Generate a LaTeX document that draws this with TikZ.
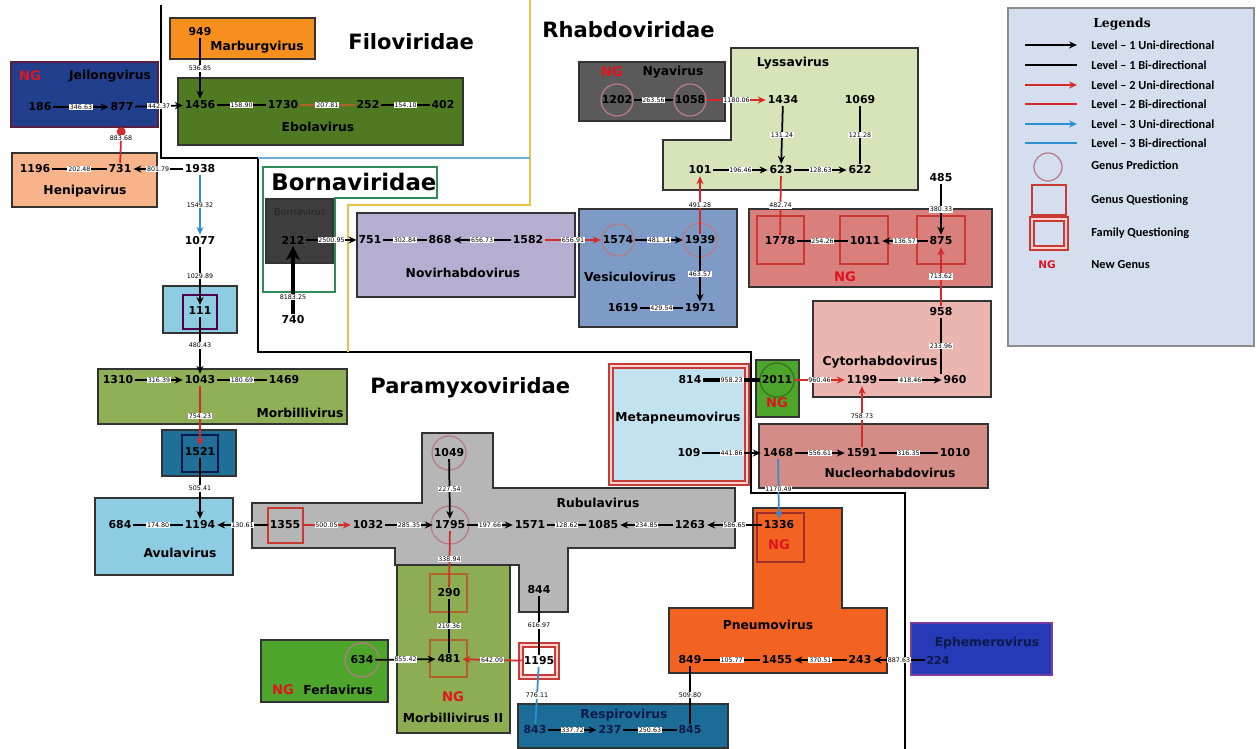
\documentclass[tikz,border=0pt]{standalone}
\usepackage{fontspec}
\setmainfont{DejaVu Sans}
\newfontfamily\legfont{Carlito}
\newfontfamily\legtitle{DejaVu Serif}
\usetikzlibrary{arrows.meta}

\definecolor{marbc}{HTML}{F78F1E}
\definecolor{ebolac}{HTML}{4F7A22}
\definecolor{jeilc}{HTML}{213F8C}
\definecolor{jeilline}{HTML}{5B1F3F}
\definecolor{henic}{HTML}{F7B38A}
\definecolor{bornac}{HTML}{3D3D3D}
\definecolor{bornaline}{HTML}{2E8B57}
\definecolor{novic}{HTML}{B6AED0}
\definecolor{vesic}{HTML}{7E9BC7}
\definecolor{lyssc}{HTML}{D7E3B8}
\definecolor{nyac}{HTML}{5A5A5A}
\definecolor{ngregc}{HTML}{D9807C}
\definecolor{cytoc}{HTML}{EBB6B0}
\definecolor{greenngc}{HTML}{4DA52B}
\definecolor{metac}{HTML}{C2E2F0}
\definecolor{nucc}{HTML}{D48C87}
\definecolor{pneuc}{HTML}{F26322}
\definecolor{ephec}{HTML}{2639B7}
\definecolor{ephline}{HTML}{7A3C9E}
\definecolor{respc}{HTML}{1C6C98}
\definecolor{rubc}{HTML}{B6B6B6}
\definecolor{morbiic}{HTML}{8CAD51}
\definecolor{avuc}{HTML}{8ECCE2}
\definecolor{boxdarkc}{HTML}{1F6F98}
\definecolor{morbc}{HTML}{90B058}
\definecolor{legbg}{HTML}{D4DEEE}
\definecolor{lvtwo}{HTML}{D42A2A}
\definecolor{lvthree}{HTML}{2E8FD0}
\definecolor{browny}{HTML}{B0642A}
\definecolor{ngred}{HTML}{E0141E}
\definecolor{predc}{HTML}{B87A86}
\definecolor{questc}{HTML}{C83A34}
\definecolor{famyellow}{HTML}{E9C441}
\definecolor{famblue}{HTML}{6AAEDC}
\definecolor{navytext}{HTML}{0C1A4A}

\begin{document}
\begin{tikzpicture}[x=0.02cm,y=-0.02cm,
    num/.style={font=\bfseries\fontsize{6.2}{7}\selectfont, inner sep=1pt},
    gname/.style={font=\bfseries\fontsize{7}{8}\selectfont, inner sep=0pt},
    fam/.style={font=\bfseries\fontsize{12}{14}\selectfont, anchor=west, inner sep=0pt},
    ng/.style={font=\bfseries\fontsize{7.5}{8}\selectfont, text=ngred, inner sep=0pt},
    elab/.style={font=\fontsize{3.6}{4}\selectfont, fill=white, inner sep=0.5pt},
    lone/.style={draw=black, line width=1pt, -{Stealth[length=4.5pt,width=4pt]}},
    lonebi/.style={draw=black, line width=1pt},
    ltwo/.style={draw=lvtwo, line width=1pt, -{Stealth[length=4.5pt,width=4pt]}},
    ltwobi/.style={draw=lvtwo, line width=1pt},
    lthree/.style={draw=lvthree, line width=1pt, -{Stealth[length=4.5pt,width=4pt]}},
    lthreebi/.style={draw=lvthree, line width=1pt},
    box/.style={draw=black!80, line width=0.9pt},
    pred/.style={draw=predc, line width=0.7pt},
    quest/.style={draw=questc, line width=0.8pt},
    famquest/.style={draw=questc, line width=0.9pt, double=pink!70, double distance=1.2pt},
    leg/.style={font=\legfont\bfseries\fontsize{7}{8}\selectfont, anchor=west, inner sep=0pt}]

\useasboundingbox (0,0) rectangle (1257,749);
\fill[white] (0,0) rectangle (1257,749);

% family borders
\draw[line width=1.6pt] (161,5) -- (161,158) -- (258,158) -- (258,352) -- (751,352) -- (751,493) -- (905,493) -- (905,749);
\draw[famyellow, line width=1.4pt] (530,0) -- (530,205) -- (348,205) -- (348,352);
\draw[famblue, line width=1.2pt] (258,158) -- (530,158);

% genus boxes
\draw[box, fill=marbc] (170,18) rectangle (315,59);
\draw[box, fill=ebolac] (178,78) rectangle (463,145);
\draw[draw=jeilline, line width=1.3pt, fill=jeilc] (11,62) rectangle (158,127);
\draw[box, fill=henic] (12,153) rectangle (157,207);
\draw[bornaline, line width=1.2pt] (263,167) -- (437,167) -- (437,198) -- (335,198) -- (335,292) -- (263,292) -- cycle;
\draw[box, fill=bornac] (266,199) rectangle (333,263);
\draw[box, fill=novic] (357,213) rectangle (575,297);
\draw[box, fill=vesic] (579,209) rectangle (737,327);
\draw[box, fill=lyssc] (731,48) -- (918,48) -- (918,190) -- (663,190) -- (663,140) -- (731,140) -- cycle;
\draw[box, fill=nyac] (579,62) rectangle (725,121);
\draw[box, fill=ngregc] (749,209) rectangle (992,287);
\draw[box, fill=cytoc] (813,301) rectangle (991,397);
\draw[box, fill=greenngc] (756,360) rectangle (799,417);
\draw[famquest, fill=metac] (611,366) rectangle (747,483);
\draw[box, fill=nucc] (759,424) rectangle (988,488);
\draw[box, fill=pneuc] (753,508) -- (842,508) -- (842,608) -- (887,608) -- (887,673) -- (669,673) -- (669,608) -- (753,608) -- cycle;
\draw[draw=ephline, line width=1.3pt, fill=ephec] (911,623) rectangle (1052,675);
\draw[box, fill=respc] (518,704) rectangle (728,748);
\draw[box, fill=rubc] (252,503) -- (422,503) -- (422,433) -- (493,433) -- (493,488) -- (735,488) -- (735,548) -- (568,548) -- (568,612) -- (519,612) -- (519,565) -- (395,565) -- (395,548) -- (252,548) -- cycle;
\draw[box, fill=morbiic] (397,565) rectangle (510,733);
\draw[box, fill=greenngc] (261,640) rectangle (388,702);
\draw[famquest, fill=white] (521,645) rectangle (557,677);
\draw[box, fill=avuc] (95,498) rectangle (233,575);
\draw[box, fill=boxdarkc] (162,430) rectangle (236,476);
\draw[draw=navytext, line width=0.8pt] (182,435) rectangle (218,472);
\draw[box, fill=morbc] (98,369) rectangle (347,424);
\draw[box, fill=avuc] (163,286) rectangle (237,333);
\draw[draw=violet!60!black, line width=0.8pt] (183,295) rectangle (217,329);

% family titles
\node[fam] (tFilo) at (348,42) {Filoviridae};
\node[fam] (tRhabdo) at (542,30) {Rhabdoviridae};
\node[fam, font=\bfseries\fontsize{13}{15}\selectfont] (tBorna) at (271,182) {Bornaviridae};
\node[fam] (tParamyxo) at (370,388) {Paramyxoviridae};

% genus names
\node[gname] (tMarb) at (257,47) {Marburgvirus};
\node[gname] (tEbola) at (318,127) {Ebolavirus};
\node[ng] (ngJeil) at (30,76) {NG};
\node[gname] (tJeil) at (110,76) {Jeilongvirus};
\node[gname] (tHeni) at (85,191) {Henipavirus};
\node[font=\fontsize{5.5}{6}\selectfont, text=black!85] (tBornav) at (300,212) {Bornavirus};
\node[gname] (tNovi) at (463,273) {Novirhabdovirus};
\node[gname] (tVesi) at (630,277) {Vesiculovirus};
\node[gname] (tLyss) at (793,63) {Lyssavirus};
\node[ng] (ngNya) at (612,72) {NG};
\node[gname] (tNya) at (673,72) {Nyavirus};
\node[ng] (ngRhab) at (845,277) {NG};
\node[gname] (tCyto) at (880,362) {Cytorhabdovirus};
\node[ng] (ngGreen) at (777,403) {NG};
\node[gname] (tMeta) at (678,418) {Metapneumovirus};
\node[gname] (tNucl) at (890,473) {Nucleorhabdovirus};
\node[ng] (ngPneu) at (779,545) {NG};
\node[gname] (tPneu) at (768,625) {Pneumovirus};
\node[gname, text=navytext] (tEphe) at (987,643) {Ephemerovirus};
\node[gname, text=navytext] (tResp) at (624,715) {Respirovirus};
\node[ng] (ngMorb) at (453,697) {NG};
\node[gname] (tMorbII) at (453,718) {Morbillivirus II};
\node[ng] (ngFerla) at (283,690) {NG};
\node[gname] (tFerla) at (338,690) {Ferlavirus};
\node[gname] (tAvula) at (180,553) {Avulavirus};
\node[gname] (tMorb) at (300,413) {Morbillivirus};
\node[gname] (tRubula) at (598,503) {Rubulavirus};

% strains
\node[num] (n949) at (200,32) {949};
\node[num] (n1456) at (200,105) {1456};
\node[num] (n1730) at (283,105) {1730};
\node[num] (n252) at (368,105) {252};
\node[num] (n402) at (443,105) {402};
\node[num] (n186) at (40,107) {186};
\node[num] (n877) at (122,107) {877};
\node[num] (n1196) at (35,169) {1196};
\node[num] (n731) at (120,169) {731};
\node[num] (n1938) at (200,169) {1938};
\node[num] (n1077) at (200,241) {1077};
\node[num] (n111) at (200,311) {111};
\node[num] (n1310) at (118,380) {1310};
\node[num] (n1043) at (200,380) {1043};
\node[num] (n1469) at (284,380) {1469};
\node[num] (n1521) at (200,452) {1521};
\node[num] (n684) at (120,525) {684};
\node[num] (n1194) at (200,525) {1194};
\node[num] (n212) at (293,240) {212};
\node[num] (n740) at (293,320) {740};
\node[num] (n751) at (370,240) {751};
\node[num] (n868) at (440,240) {868};
\node[num] (n1582) at (528,240) {1582};
\node[num] (n1574) at (618,240) {1574};
\node[num] (n1939) at (700,240) {1939};
\node[num] (n1619) at (623,308) {1619};
\node[num] (n1971) at (700,308) {1971};
\node[num] (n1202) at (617,100) {1202};
\node[num] (n1058) at (690,100) {1058};
\node[num] (n1434) at (783,100) {1434};
\node[num] (n1069) at (860,100) {1069};
\node[num] (n101) at (700,170) {101};
\node[num] (n623) at (781,170) {623};
\node[num] (n622) at (860,170) {622};
\node[num] (n485) at (941,178) {485};
\node[num] (n1778) at (780,241) {1778};
\node[num] (n1011) at (865,241) {1011};
\node[num] (n875) at (941,241) {875};
\node[num] (n958) at (941,312) {958};
\node[num] (n1199) at (862,380) {1199};
\node[num] (n960) at (955,380) {960};
\node[num] (n814) at (690,380) {814};
\node[num] (n2011) at (777,380) {2011};
\node[num] (n109) at (689,453) {109};
\node[num] (n1468) at (778,453) {1468};
\node[num] (n1591) at (862,453) {1591};
\node[num] (n1010) at (955,453) {1010};
\node[num] (n1049) at (449,453) {1049};
\node[num] (n1355) at (285,525) {1355};
\node[num] (n1032) at (368,525) {1032};
\node[num] (n1795) at (450,525) {1795};
\node[num] (n1571) at (530,525) {1571};
\node[num] (n1085) at (603,525) {1085};
\node[num] (n1263) at (690,525) {1263};
\node[num] (n1336) at (779,525) {1336};
\node[num] (n844) at (539,590) {844};
\node[num] (n290) at (449,593) {290};
\node[num] (n481) at (449,659) {481};
\node[num] (n634) at (362,660) {634};
\node[num] (n1195) at (539,661) {1195};
\node[num] (n849) at (690,660) {849};
\node[num] (n1455) at (777,660) {1455};
\node[num] (n243) at (860,660) {243};
\node[num, text=navytext] (n224) at (938,660) {224};
\node[num, text=navytext] (n843) at (535,730) {843};
\node[num, text=navytext] (n237) at (610,730) {237};
\node[num, text=navytext] (n845) at (690,730) {845};

% genus prediction and questioning marks
\draw[pred] (n1202) circle[radius=16];
\draw[pred] (n1058) circle[radius=16];
\draw[pred] (n1574) circle[radius=16];
\draw[pred] (n1939) circle[radius=17];
\draw[pred] (n1049) circle[radius=17];
\draw[pred] (n1795) circle[radius=19];
\draw[pred] (n634) circle[radius=17];
\draw[pred, draw=greenngc!70!black] (n2011) circle[radius=17];
\draw[quest] (757,216) rectangle (804,264);
\draw[quest] (840,216) rectangle (888,264);
\draw[quest] (917,216) rectangle (965,264);
\draw[quest] (268,508) rectangle (303,543);
\draw[quest, draw=browny] (430,574) rectangle (467,612);
\draw[quest, draw=browny] (430,640) rectangle (467,677);
\draw[quest, draw=questc!80!black] (757,513) rectangle (804,562);

% Filoviridae links
\draw[lone] (n949) -- node[elab]{536.85} (n1456);
\draw[lonebi] (n1456) -- node[elab]{158.90} (n1730);
\draw[lonebi, draw=browny] (n1730) -- node[elab]{207.81} (n252);
\draw[lonebi] (n252) -- node[elab]{154.10} (n402);
\draw[lone] (n186) -- node[elab]{346.63} (n877);
\draw[lone] (n877) -- node[elab]{442.37} (n1456);
\draw[ltwobi, {Circle[length=5pt]}-, shorten <=8pt] (n877) -- node[elab]{883.68} (n731);

% Paramyxoviridae links
\draw[lonebi] (n1196) -- node[elab]{202.48} (n731);
\draw[lone] (n1938) -- node[elab]{801.79} (n731);
\draw[lthree] (n1938) -- node[elab]{1549.32} (n1077);
\draw[lone] (n1077) -- node[elab]{1029.89} (n111);
\draw[lone] (n111) -- node[elab]{480.43} (n1043);
\draw[lone] (n1310) -- node[elab]{316.39} (n1043);
\draw[lonebi] (n1043) -- node[elab]{180.69} (n1469);
\draw[ltwo] (n1043) -- node[elab]{754.23} (n1521);
\draw[lone] (n1521) -- node[elab]{505.41} (n1194);
\draw[lonebi] (n684) -- node[elab]{174.80} (n1194);
\draw[lone] (n1355) -- node[elab]{130.61} (n1194);
\draw[ltwo] (n1355) -- node[elab]{500.05} (n1032);
\draw[lone] (n1032) -- node[elab]{285.35} (n1795);
\draw[lone] (n1049) -- node[elab]{227.54} (n1795);
\draw[lone] (n1795) -- node[elab]{197.66} (n1571);
\draw[lonebi] (n1571) -- node[elab]{128.62} (n1085);
\draw[lone] (n1263) -- node[elab]{234.85} (n1085);
\draw[lone] (n1336) -- node[elab]{586.65} (n1263);
\draw[ltwobi] (n1795) -- node[elab]{338.94} (n290);
\draw[lonebi] (n290) -- node[elab]{219.36} (n481);
\draw[lone] (n634) -- node[elab]{855.42} (n481);
\draw[ltwo] (n1195) -- node[elab]{642.09} (n481);
\draw[lonebi] (n844) -- node[elab]{616.97} (n1195);
\draw[lthreebi] (n1195) -- node[elab]{776.11} (n843);
\draw[lone] (n843) -- node[elab]{337.72} (n237);
\draw[lonebi] (n237) -- node[elab]{250.63} (n845);
\draw[lonebi] (n849) -- node[elab]{509.80} (n845);
\draw[lonebi] (n849) -- node[elab]{105.77} (n1455);
\draw[lone] (n243) -- node[elab]{370.51} (n1455);
\draw[lone] (n224) -- node[elab]{887.63} (n243);
\draw[lthree] (n1468) -- node[elab]{1170.49} (n1336);

% Rhabdoviridae and Bornaviridae links
\draw[lone] (n109) -- node[elab]{441.86} (n1468);
\draw[lone] (n1468) -- node[elab]{556.61} (n1591);
\draw[lonebi] (n1591) -- node[elab]{316.35} (n1010);
\draw[ltwo] (n1591) -- node[elab]{758.73} (n1199);
\draw[lonebi, line width=2pt] (n814) -- node[elab]{958.23} (n2011);
\draw[ltwo] (n2011) -- node[elab]{960.46} (n1199);
\draw[lone] (n1199) -- node[elab]{418.46} (n960);
\draw[lonebi] (n958) -- node[elab]{233.96} (n958 |- n960.north);
\draw[ltwo] (n958) -- node[elab]{713.62} (n875);
\draw[lone] (n485) -- node[elab]{380.33} (n875);
\draw[lone] (n875) -- node[elab]{136.57} (n1011);
\draw[lonebi] (n1778) -- node[elab]{254.26} (n1011);
\draw[ltwobi] (n623) -- node[elab]{482.74} (n1778);
\draw[ltwo] (n1939) -- node[elab]{491.28} (n101);
\draw[lone] (n1574) -- node[elab]{481.14} (n1939);
\draw[lone] (n1939) -- node[elab]{463.57} (n1971);
\draw[lonebi] (n1619) -- node[elab]{429.54} (n1971);
\draw[ltwo] (n1582) -- node[elab]{656.91} (n1574);
\draw[lone] (n1582) -- node[elab]{656.73} (n868);
\draw[lonebi] (n751) -- node[elab]{302.84} (n868);
\draw[lone] (n212) -- node[elab]{2500.95} (n751);
\draw[line width=2.8pt, -{Stealth[length=8pt,width=8pt]}] (n740) -- node[elab, pos=0.25]{8183.25} (n212);
\draw[ltwo] (n1058) -- node[elab]{1180.06} (n1434);
\draw[lonebi] (n1202) -- node[elab]{263.56} (n1058);
\draw[lone] (n1434) -- node[elab]{131.24} (n623);
\draw[lonebi] (n1069) -- node[elab]{121.28} (n622);
\draw[lone] (n101) -- node[elab]{196.46} (n623);
\draw[lone] (n623) -- node[elab]{128.63} (n622);

% legend
\draw[draw=black!45, line width=0.8pt, fill=legbg] (1008,8) rectangle (1254,346);
\node[font=\legtitle\bfseries\fontsize{7}{8}\selectfont] (legTitle) at (1122,24) {Legends};
\foreach \yy/\sty/\txt in {45/lone/{Level – 1 Uni-directional}, 65/lonebi/{Level – 1 Bi-directional},
    85/ltwo/{Level – 2 Uni-directional}, 104/ltwobi/{Level – 2 Bi-directional},
    124/lthree/{Level – 3 Uni-directional}, 143/lthreebi/{Level – 3 Bi-directional}}{
  \draw[\sty] (1025,\yy) -- (1077,\yy);
  \node[leg] (leg\yy) at (1091,\yy) {\txt};
}
\draw[pred] (1048,167) circle[radius=14];
\node[leg] (legPred) at (1091,165) {Genus Prediction};
\draw[quest] (1032,185) rectangle (1066,215);
\node[leg] (legQuest) at (1091,200) {Genus Questioning};
\draw[famquest] (1032,219) rectangle (1066,248);
\node[leg] (legFam) at (1091,233) {Family Questioning};
\node[ng, font=\bfseries\fontsize{6}{7}\selectfont] (legNG) at (1047,265) {NG};
\node[leg] (legNew) at (1091,265) {New Genus};
\end{tikzpicture}
\end{document}
